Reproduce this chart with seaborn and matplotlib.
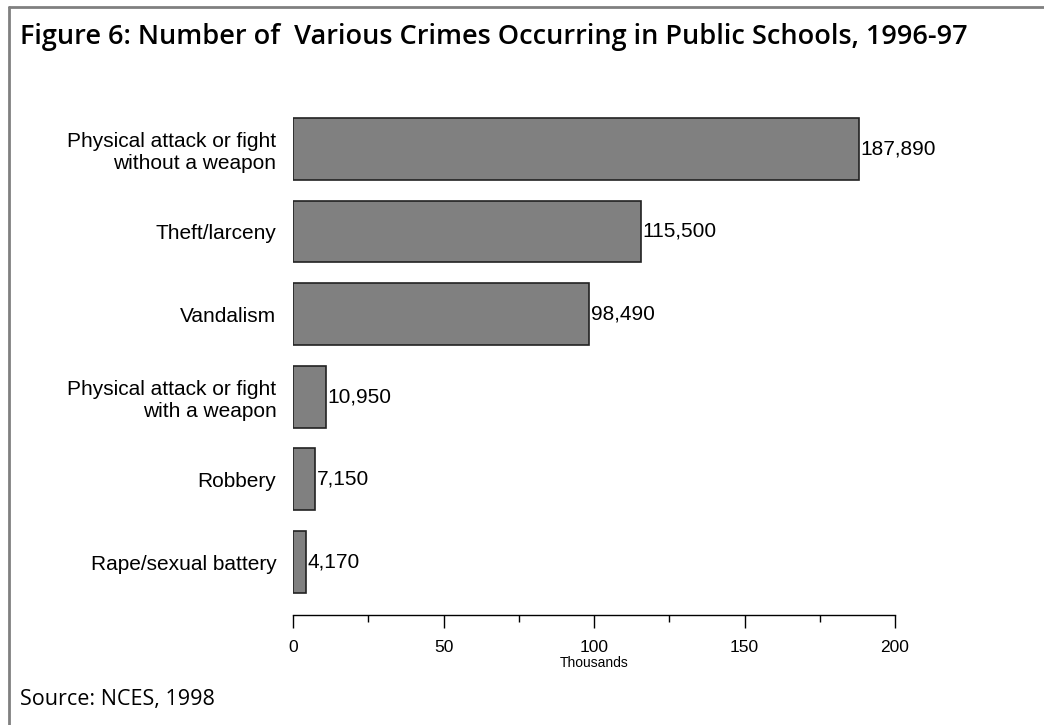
import matplotlib
matplotlib.use("Agg")
import matplotlib.pyplot as plt
import seaborn as sns
import pandas as pd
from matplotlib.lines import Line2D
from matplotlib.ticker import MultipleLocator

# Data (number of incidents)
categories = [
    "Physical attack or fight\nwithout a weapon",
    "Theft/larceny",
    "Vandalism",
    "Physical attack or fight\nwith a weapon",
    "Robbery",
    "Rape/sexual battery",
]
counts = [187890, 115500, 98490, 10950, 7150, 4170]
value_labels = ["187,890", "115,500", "98,490", "10,950", "7,150", "4,170"]

df = pd.DataFrame({"crime": categories, "thousands": [c / 1000 for c in counts]})

sns.set_style("white")
plt.rcParams["font.family"] = ["Liberation Sans", "DejaVu Sans"]
plt.rcParams["text.color"] = "black"
plt.rcParams["axes.labelcolor"] = "black"
plt.rcParams["xtick.color"] = "black"
plt.rcParams["ytick.color"] = "black"

fig = plt.figure(figsize=(10.44, 7.25), dpi=100)
ax = fig.add_axes([0.2807, 0.1517, 0.5766, 0.70])

sns.barplot(data=df, y="crime", x="thousands", orient="h", color="#808080",
            saturation=1, edgecolor="#222222", linewidth=1.2, width=0.75, ax=ax)

for i, (v, lab) in enumerate(zip(df["thousands"], value_labels)):
    ax.text(v + 0.6, i, lab, va="center", ha="left", fontsize=15, color="black")

ax.set_xlim(0, 200)
ax.set_ylim(5.64, -0.5)
ax.xaxis.set_major_locator(MultipleLocator(50))
ax.xaxis.set_minor_locator(MultipleLocator(25))
ax.tick_params(axis="x", which="major", direction="out", length=9, width=1,
               labelsize=12.5, pad=9, bottom=True)
ax.tick_params(axis="x", which="minor", direction="out", length=5, width=1, bottom=True)
ax.tick_params(axis="y", length=0, labelsize=15, pad=12)
ax.set_ylabel("")
ax.set_xlabel("Thousands", fontsize=10, labelpad=1)
for s in ["top", "right", "left"]:
    ax.spines[s].set_visible(False)
ax.spines["bottom"].set_color("black")
ax.spines["bottom"].set_linewidth(1)

# Frame lines (top and left only)
fig.add_artist(Line2D([8.5 / 1044, 1.0], [1 - 6.5 / 725, 1 - 6.5 / 725],
                      transform=fig.transFigure, color="#808080", lw=2))
fig.add_artist(Line2D([8.5 / 1044, 8.5 / 1044], [0, 1 - 6.5 / 725],
                      transform=fig.transFigure, color="#808080", lw=2))

fig.text(20 / 1044, 1 - 37 / 725, "Figure 6: Number of  Various Crimes Occurring in Public Schools, 1996-97",
         fontsize=19.5, fontweight="semibold", family=["Open Sans", "DejaVu Sans"],
         va="center", ha="left")
fig.text(20 / 1044, 1 - 700 / 725, "Source: NCES, 1998", fontsize=15.5,
         family=["Open Sans", "DejaVu Sans"], va="center", ha="left")

fig.savefig("out.png", dpi=100)
